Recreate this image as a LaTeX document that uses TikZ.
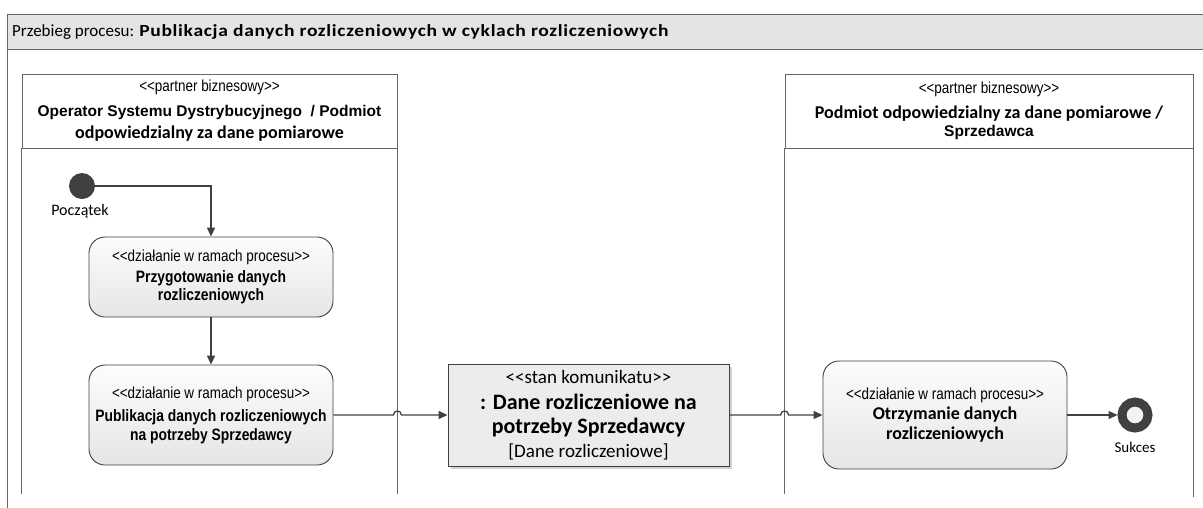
\documentclass[tikz,border=0pt]{standalone}
\usepackage{fontspec}
\setmainfont{Carlito}
\newfontfamily\narrowf[FakeStretch=0.84]{Liberation Sans}
\newfontfamily\arialf{Liberation Sans}
\newfontfamily\titleboldf[FakeStretch=1.15,LetterSpace=4]{Carlito Bold}
\usetikzlibrary{arrows.meta,calc,shadows}
\definecolor{linec}{HTML}{404040}
\definecolor{lanec}{HTML}{666666}
\definecolor{titlefill}{HTML}{E4E4E4}
\definecolor{msgfill}{HTML}{ECECEC}
\newcommand\stL{<\kern0pt<}
\newcommand\stR{>\kern0pt>}
\newcommand\stereo[1]{{\narrowf\fontsize{16}{19}\selectfont\stL#1\stR}}
\newcommand\actb[1]{{\narrowf\bfseries\fontsize{16.5}{19}\selectfont #1}}
\newcommand\calb[1]{{\bfseries\fontsize{18}{21}\selectfont #1}}
\tikzset{
  frameline/.style={draw=lanec, line width=0.8pt},
  laneline/.style={draw=lanec, line width=0.8pt},
  laneheader/.style={draw=lanec, line width=0.8pt, rectangle, inner sep=0pt, align=center,
    minimum height=74pt, font=\fontsize{18}{21}\selectfont},
  act/.style={draw=linec, line width=0.9pt, rounded corners=16pt,
    top color=white!99!black, bottom color=white!90!black,
    minimum width=244pt, align=center, inner sep=0pt, font=\fontsize{16}{19}\selectfont},
  msgbox/.style={draw=linec, line width=0.9pt, fill=msgfill, minimum width=281pt, minimum height=102pt,
    align=center, inner sep=0pt, font=\fontsize{19}{24}\selectfont,
    drop shadow={shadow xshift=3pt, shadow yshift=-3pt, fill=black!18, opacity=1}},
  conn/.style={draw=linec, line width=1.3pt, -{Triangle[length=9pt,width=8pt]}},
  lbl/.style={font=\fontsize{15}{18}\selectfont, inner sep=0pt},
}
\begin{document}
\begin{tikzpicture}[x=1pt,y=-1pt]
\useasboundingbox (0,0) rectangle (1203,507);
\clip (0,0) rectangle (1203,507);
% frame and title bar
\fill[titlefill] (7,14) rectangle (1210,49);
\draw[frameline] (1210,14) -- (7,14) -- (7,510);
\draw[frameline] (7,49) -- (1210,49);
\node[anchor=west, inner sep=0pt, font=\fontsize{17}{20}\selectfont] (title) at (12,32)
  {Przebieg procesu: {\titleboldf Publikacja danych rozliczeniowych w cyklach rozliczeniowych}};
% lanes
\node[laneheader, minimum width=375pt] (hl) at (209.5,111)
  {\stereo{partner biznesowy}\\[4pt]
   {\arialf\bfseries\fontsize{15.5}{19}\selectfont Operator Systemu Dystrybucyjnego~~/ Podmiot}\\[1pt]
   \calb{odpowiedzialny za dane pomiarowe}};
\node[laneheader, minimum width=408pt] (hr) at (989,111)
  {\stereo{partner biznesowy}\\[4pt]
   \calb{Podmiot odpowiedzialny za dane pomiarowe /}\\[-3pt]
   {\arialf\bfseries\fontsize{15.5}{19}\selectfont Sprzedawca}};
\draw[laneline] (hl.south west) -- ++(0,346);
\draw[laneline] (hl.south east) -- ++(0,346);
\draw[laneline] (hr.south west) -- ++(0,346);
\draw[laneline] (hr.south east) -- ++(0,349);
% start
\node[circle, fill=linec, minimum size=26pt, inner sep=0pt] (start) at (82,186) {};
\node[lbl, font=\fontsize{16}{19}\selectfont] (startlbl) at (80,211) {Początek};
% activities
\node[act, minimum height=80pt] (b1) at (211,277)
  {\stereo{działanie w ramach procesu}\\[2pt]
   \actb{Przygotowanie danych}\\[-1pt]
   \actb{rozliczeniowych}};
\node[act, minimum height=100pt] (b2) at (211,415)
  {\stereo{działanie w ramach procesu}\\[4pt]
   \actb{Publikacja danych rozliczeniowych}\\
   \actb{na potrzeby Sprzedawcy}};
\node[msgbox] (msg) at (588.5,415)
  {{\fontsize{19}{24}\selectfont\stL stan komunikatu\stR}\\[2pt]
   {\bfseries\fontsize{22}{24}\selectfont : Dane rozliczeniowe na}\\
   {\bfseries\fontsize{22}{24}\selectfont potrzeby Sprzedawcy}\\
   {\fontsize{19}{24}\selectfont [Dane rozliczeniowe]}};
\node[act, minimum height=108pt] (b3) at (945,415)
  {\stereo{działanie w ramach procesu}\\[1pt]
   \calb{Otrzymanie danych}\\[1pt]
   \calb{rozliczeniowych}};
% end
\node[circle, draw=linec, line width=9pt, fill=white!95!black, minimum size=26pt, inner sep=0pt] (fin) at (1135,415) {};
\node[lbl] (finlbl) at (1135,447) {Sukces};
% connectors
\draw[conn] (start.east) -| (b1.north);
\draw[conn] (b1.south) -- (b2.north);
\coordinate (j1) at (b2.east -| hl.south east);
\coordinate (j2) at (msg.east -| hr.south west);
\draw[conn] (b2.east) -- ([xshift=-4pt]j1) .. controls +(0,-5.3) and +(0,-5.3) .. ([xshift=4pt]j1) -- (msg.west);
\draw[conn] (msg.east) -- ([xshift=-4pt]j2) .. controls +(0,-5.3) and +(0,-5.3) .. ([xshift=4pt]j2) -- (b3.west);
\draw[conn] (b3.east) -- (fin.west);
\end{tikzpicture}
\end{document}
